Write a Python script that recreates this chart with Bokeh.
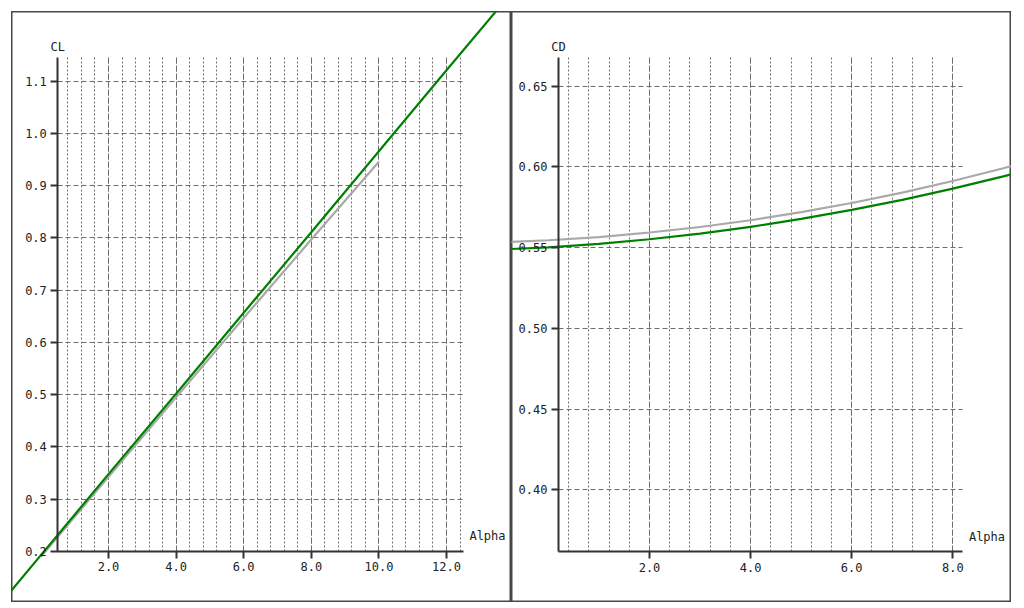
from bokeh.plotting import figure
from bokeh.layouts import row
from bokeh.models import (Grid, FixedTicker, Label, Range1d, ColumnDataSource,
                          NumeralTickFormatter)
from bokeh.embed import file_html
from bokeh.resources import INLINE

# ---------------- data ----------------
# Lift coefficient vs angle of attack
alpha_cl_fit = [-2, 0, 2, 4, 6, 8, 10, 12, 14]
cl_fit = [0.038, 0.193, 0.348, 0.502, 0.657, 0.811, 0.966, 1.121, 1.275]
alpha_cl_exp = [0, 2, 4, 6, 8, 10]
cl_exp = [0.190, 0.343, 0.495, 0.647, 0.797, 0.946]

# Drag coefficient vs angle of attack
alpha_cd = [-1, 0, 1, 2, 3, 4, 5, 6, 7, 8, 9, 10]
cd_fit = [0.5488, 0.5502, 0.5523, 0.5552, 0.5587, 0.5629, 0.5678, 0.5734,
          0.5796, 0.5866, 0.5942, 0.6025]
cd_exp = [0.5533, 0.5546, 0.5565, 0.5594, 0.5628, 0.5670, 0.5720, 0.5777,
          0.5841, 0.5913, 0.5992, 0.6078]

# ticks
cl_x_ticks = [2, 4, 6, 8, 10, 12]
cl_y_ticks = [0.2, 0.3, 0.4, 0.5, 0.6, 0.7, 0.8, 0.9, 1.0, 1.1]
cd_x_ticks = [2, 4, 6, 8]
cd_y_ticks = [0.40, 0.45, 0.50, 0.55, 0.60, 0.65]
minor_step = 0.4

FONT = "DejaVu Sans Mono"
FS = "12px"
GRID_COLOR = "#6e6e6e"
AXIS_COLOR = "#333333"


def panel(x_view, y_view, x_inner, y_inner, x_ticks, y_ticks, xfmt, yfmt,
          ylabel, series):
    p = figure(width=500, height=591, output_backend="svg",
               toolbar_location=None,
               x_range=Range1d(*x_view), y_range=Range1d(*y_view))
    p.min_border = 0
    p.background_fill_color = "white"
    p.border_fill_color = "white"
    p.outline_line_color = "#474747"
    p.outline_line_width = 2
    p.xgrid.grid_line_color = None
    p.ygrid.grid_line_color = None

    # axes drawn inside the frame
    for ax, loc, bnds, ticks, fmt in ((p.xaxis, y_inner[0], x_inner, x_ticks, xfmt),
                                      (p.yaxis, x_inner[0], y_inner, y_ticks, yfmt)):
        ax.fixed_location = loc
        ax.bounds = bnds
        ax.ticker = FixedTicker(ticks=ticks)
        ax.formatter = NumeralTickFormatter(format=fmt)
        ax.axis_line_color = AXIS_COLOR
        ax.axis_line_width = 2
        ax.major_tick_line_color = AXIS_COLOR
        ax.major_tick_line_width = 2
        ax.major_tick_out = 7
        ax.major_tick_in = 0
        ax.minor_tick_line_color = None
        ax.major_label_text_font = FONT
        ax.major_label_text_font_size = FS
        ax.major_label_text_color = "#222222"
        ax.major_label_standoff = 4

    # grid lines limited to the inner box
    lo = int(round(x_inner[0] / minor_step)) + 1
    hi = int(round(x_inner[1] / minor_step))
    minor_ticks = [round(k * minor_step, 2) for k in range(lo, hi + 1)
                   if x_inner[0] < k * minor_step <= x_inner[1]]
    grids = [
        (0, minor_ticks, "2 2", y_inner),
        (0, x_ticks, "5 3", y_inner),
        (1, y_ticks, "5 3", x_inner),
    ]
    has_cross = "cross_bounds" in Grid.properties()
    for dim, ticks, dash, cross in grids:
        if has_cross:
            g = Grid(dimension=dim, ticker=FixedTicker(ticks=ticks),
                     cross_bounds=cross, grid_line_color=GRID_COLOR,
                     grid_line_dash=dash, grid_line_width=1)
            p.add_layout(g)
        else:
            if dim == 0:
                src = ColumnDataSource(dict(x0=ticks, x1=ticks,
                                            y0=[cross[0]] * len(ticks),
                                            y1=[cross[1]] * len(ticks)))
            else:
                src = ColumnDataSource(dict(y0=ticks, y1=ticks,
                                            x0=[cross[0]] * len(ticks),
                                            x1=[cross[1]] * len(ticks)))
            p.segment("x0", "y0", "x1", "y1", source=src, line_color=GRID_COLOR,
                      line_dash=dash, line_width=1, level="underlay")

    for xs, ys, color in series:
        p.line(xs, ys, line_color=color, line_width=2.2)

    p.add_layout(Label(x=x_inner[0], y=y_inner[1], text=ylabel,
                       text_align="center", text_baseline="bottom", y_offset=4,
                       text_font=FONT, text_font_size=FS, text_color="#222222"))
    p.add_layout(Label(x=x_inner[1], y=y_inner[0], text="Alpha",
                       text_align="left", text_baseline="bottom", x_offset=6,
                       y_offset=8, text_font=FONT, text_font_size=FS,
                       text_color="#222222"))
    return p


p1 = panel((-0.870, 13.923), (0.1024, 1.2334), (0.5, 12.5), (0.2, 1.145),
           cl_x_ticks, cl_y_ticks, "0.0", "0.0", "CL",
           [(alpha_cl_exp, cl_exp, "#a9a9a9"), (alpha_cl_fit, cl_fit, "#008000")])
p2 = panel((-0.730, 9.161), (0.3302, 0.6963), (0.2, 8.2), (0.3615, 0.6678),
           cd_x_ticks, cd_y_ticks, "0.0", "0.00", "CD",
           [(alpha_cd, cd_exp, "#a9a9a9"), (alpha_cd, cd_fit, "#008000")])

layout = row(p1, p2, margin=(11, 0, 0, 11))

html = file_html(layout, INLINE)
html = html.replace("<body>", '<body style="background-color:#eeeeee;">', 1)
open("out.html", "w").write(html)
